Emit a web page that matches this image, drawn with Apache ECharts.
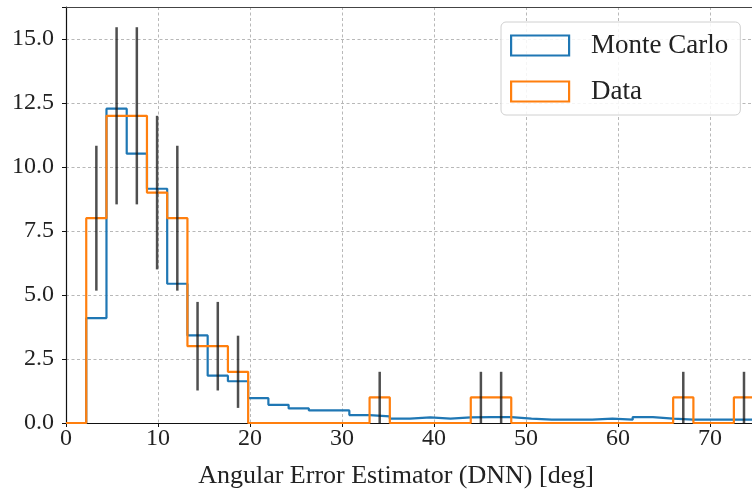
<!DOCTYPE html>
<html>
<head>
<meta charset="utf-8">
<script src="https://cdn.jsdelivr.net/npm/echarts@6/dist/echarts.min.js"></script>
<style>html,body{margin:0;padding:0;background:#fff;}#c{width:752px;height:493px;}</style>
</head>
<body>
<div id="c"></div>
<script>
// Bin edges (deg)
const binEdges = [0,2.2,4.4,6.6,8.8,11,13.2,15.4,17.6,19.8,22,24.2,26.4,28.6,30.8,33,35.2,37.4,39.6,41.8,44,46.2,48.4,50.6,52.8,55,57.2,59.4,61.6,63.8,66,68.2,70.4,72.6,74.8];
// Monte Carlo histogram values per bin
const mcValues = [0,4.1,12.28,10.52,9.15,5.44,3.42,1.85,1.63,0.97,0.71,0.57,0.49,0.49,0.31,0.26,0.17,0.22,0.17,0.22,0.23,0.23,0.17,0.13,0.13,0.13,0.17,0.13,0.23,0.17,0.13,0.13,0.13,0.13];
// Data histogram counts per bin
const dataValues = [0,8,12,12,9,8,3,3,2,0,0,0,0,0,0,1,0,0,0,0,1,1,0,0,0,0,0,0,0,0,1,0,0,1];
// Data error (half-length of error bars) per bin
const dataErr = [0,2.83,3.46,3.46,3.0,2.83,1.73,1.73,1.41,0,0,0,0,0,0,1,0,0,0,0,1,1,0,0,0,0,0,0,0,0,1,0,0,1];
// Axis ticks
const xTicks = [0,10,20,30,40,50,60,70];
const yTicks = [0,2.5,5,7.5,10,12.5,15];

function stepPoints(vals){
  const pts = [[binEdges[0],0]];
  for(let i=0;i<vals.length;i++){
    pts.push([binEdges[i],vals[i]]);
    pts.push([binEdges[i+1],vals[i]]);
  }
  pts.push([binEdges[vals.length],0]);
  return pts;
}
const errData = [];
for(let i=0;i<dataValues.length;i++){
  if(dataValues[i]>0){
    const c=(binEdges[i]+binEdges[i+1])/2;
    errData.push([c, Math.max(0,dataValues[i]-dataErr[i]), dataValues[i]+dataErr[i]]);
  }
}
const FONT = '"Liberation Serif", "DejaVu Serif", serif';
const XMAX = 74.57;
const chart = echarts.init(document.getElementById('c'), null, {renderer:'canvas'});
chart.setOption({
  animation:false,
  backgroundColor:'#fff',
  grid:{left:66,right:0,top:7,bottom:70,show:false,containLabel:false,outerBoundsMode:'none'},
  xAxis:[{
    type:'value',min:0,max:XMAX,interval:10,
    name:'Angular Error Estimator (DNN) [deg]',nameLocation:'middle',nameGap:40,
    nameTextStyle:{fontFamily:FONT,fontSize:26,color:'#222',padding:[0,26,0,0]},
    axisLine:{show:true,lineStyle:{color:'#111',width:1.2}},
    axisTick:{show:true,length:4,lineStyle:{color:'#111',width:1}},
    axisLabel:{fontFamily:FONT,fontSize:24,color:'#222',margin:4,
      formatter:v=>xTicks.indexOf(Math.round(v*100)/100)>=0?String(v):''},
    splitLine:{show:true,lineStyle:{color:'#b8b8b8',width:1,type:[3,2.5]}}
  },{
    type:'value',position:'top',min:0,max:XMAX,interval:10,
    axisLine:{show:true,onZero:false,lineStyle:{color:'#444',width:1.2}},
    axisTick:{show:false},axisLabel:{show:false},splitLine:{show:false}
  }],
  yAxis:{
    type:'value',min:0,max:16.25,interval:2.5,
    axisLine:{show:true,lineStyle:{color:'#111',width:1.2}},
    axisTick:{show:true,length:4,lineStyle:{color:'#111',width:1}},
    axisLabel:{fontFamily:FONT,fontSize:24,color:'#222',margin:12,
      formatter:v=>yTicks.indexOf(Math.round(v*100)/100)>=0?v.toFixed(1):''},
    splitLine:{show:true,lineStyle:{color:'#b8b8b8',width:1,type:[3,2.5]}}
  },
  legend:{
    left:501,top:22,orient:'vertical',
    itemWidth:58,itemHeight:20,itemGap:19,
    padding:[10,12,10,9],
    backgroundColor:'rgba(255,255,255,0.85)',borderColor:'#d0d0d0',borderWidth:1,borderRadius:5,
    textStyle:{fontFamily:FONT,fontSize:27,lineHeight:20,color:'#222',padding:[0,0,0,17]},
    data:[
      {name:'Monte Carlo',icon:'rect',itemStyle:{color:'rgba(0,0,0,0)',borderColor:'#1f77b4',borderWidth:2.2}},
      {name:'Data',icon:'rect',itemStyle:{color:'rgba(0,0,0,0)',borderColor:'#ff7f0e',borderWidth:2.2}}
    ]
  },
  series:[
    {name:'Monte Carlo',type:'line',data:stepPoints(mcValues),showSymbol:false,symbol:'none',
     lineStyle:{color:'#1f77b4',width:2.2},itemStyle:{color:'#1f77b4'},z:2},
    {name:'Data',type:'line',data:stepPoints(dataValues),showSymbol:false,symbol:'none',
     lineStyle:{color:'#ff7f0e',width:2.2},itemStyle:{color:'#ff7f0e'},z:3},
    {name:'err',type:'custom',data:errData,z:4,clip:true,
     renderItem:function(params,api){
       const p1=api.coord([api.value(0),api.value(1)]);
       const p2=api.coord([api.value(0),api.value(2)]);
       return {type:'line',shape:{x1:p1[0],y1:p1[1],x2:p2[0],y2:p2[1]},
         style:{stroke:'rgba(20,20,20,0.75)',lineWidth:2.5}};
     }}
  ]
});
</script>
</body>
</html>
